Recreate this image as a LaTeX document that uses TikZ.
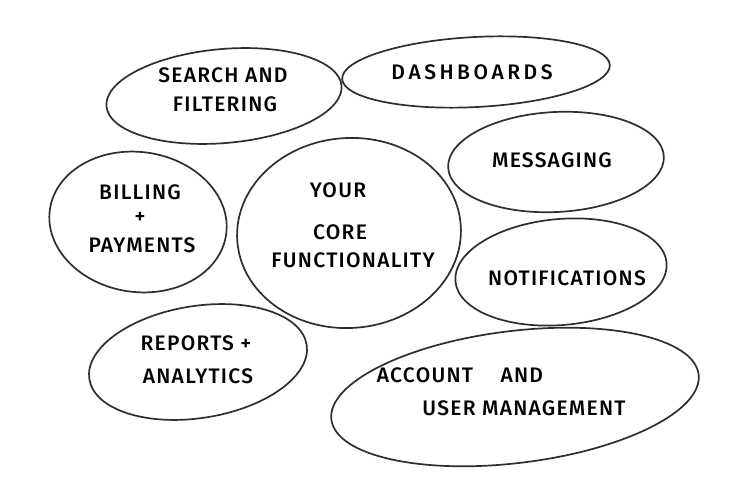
\documentclass[tikz,border=0pt]{standalone}
\usepackage{fontspec}
\setmainfont{Fira Sans}[LetterSpace=6,UprightFont={* Medium}]
\begin{document}
\begin{tikzpicture}[x=1pt,y=-1pt,
  blob/.style={draw=black!82,line width=1.7pt},
  lbl/.style={font=\fontsize{21}{27}\selectfont,text=black,align=center,inner sep=0pt}]
\useasboundingbox (0,0) rectangle (750,500);
\fill[white] (0,0) rectangle (750,500);
% outlines
\draw[blob,rotate around={5:(224,96)}] (224,96) ellipse [x radius=118, y radius=47];
\draw[blob,rotate around={3:(476,72)}] (476,72) ellipse [x radius=134, y radius=35];
\draw[blob,rotate around={4:(349,233)}] (349,233) ellipse [x radius=112, y radius=95];
\draw[blob,rotate around={-8:(138,222)}] (138,222) ellipse [x radius=89, y radius=70];
\draw[blob,rotate around={3:(556,162)}] (556,162) ellipse [x radius=108, y radius=50];
\draw[blob,rotate around={5:(561,272)}] (561,272) ellipse [x radius=106, y radius=53];
\draw[blob,rotate around={9:(198,362)}] (198,362) ellipse [x radius=110, y radius=56];
\draw[blob,rotate around={7:(515,397)}] (515,397) ellipse [x radius=185, y radius=66];
% labels
\node[lbl] (search1) at (223,75) {SEARCH AND};
\node[lbl] (search2) at (225,104) {FILTERING};
\node[lbl] (dash) at (472,72) {D\,A\,S\,H\,B\,O\,A\,R\,D\,S};
\node[lbl] (core1) at (338,190) {YOUR};
\node[lbl] (core2) at (340,232) {CORE};
\node[lbl] (core3) at (353,260) {FUNCTIONALITY};
\node[lbl] (bill1) at (140,192) {BILLING};
\node[lbl] (bill2) at (140,218) {+};
\node[lbl] (bill3) at (142,245) {PAYMENTS};
\node[lbl] (msg) at (552,160) {MESSAGING};
\node[lbl] (notif) at (567,278) {NOTIFICATIONS};
\node[lbl] (rep1) at (196,343) {REPORTS +};
\node[lbl] (rep2) at (198,376) {ANALYTICS};
\node[lbl] (acc1) at (460,375) {ACCOUNT\quad\ AND};
\node[lbl] (acc2) at (524,408) {USER MANAGEMENT};
\end{tikzpicture}
\end{document}
